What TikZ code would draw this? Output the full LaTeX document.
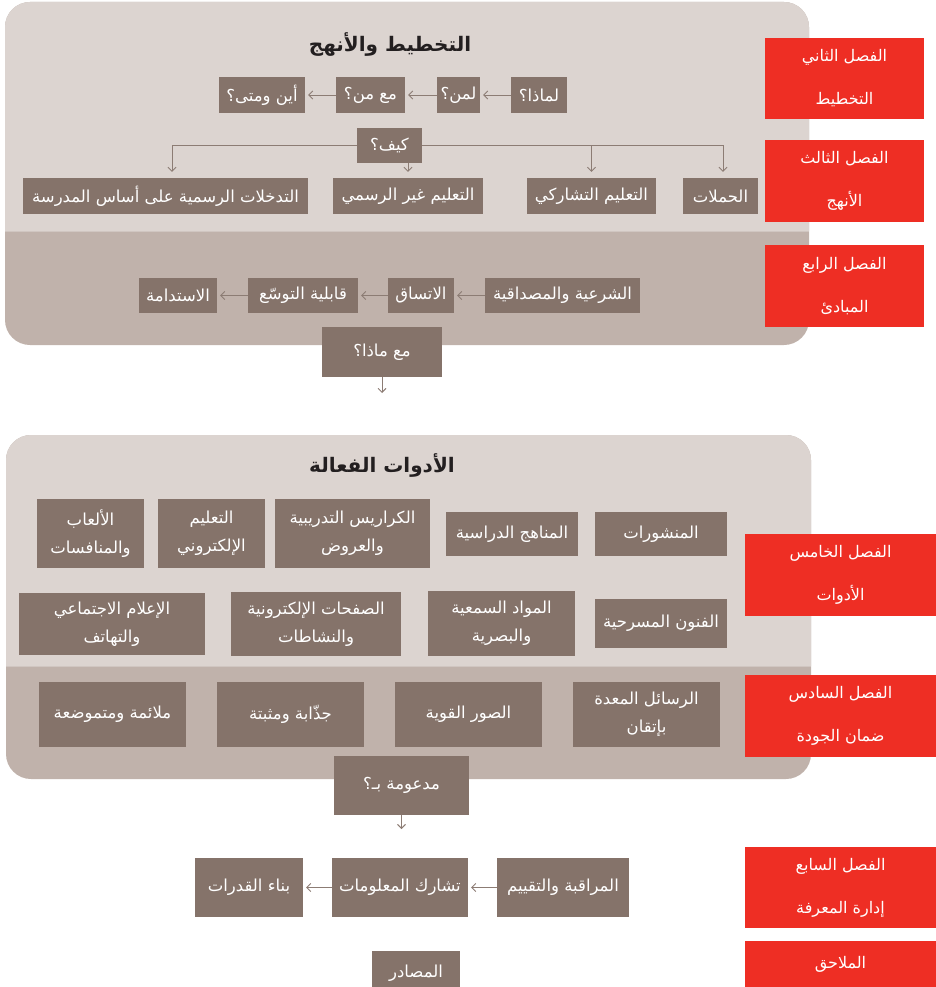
\documentclass[tikz,border=0pt]{standalone}
\usepackage{fontspec}
\newfontfamily\arabicfont[Script=Arabic]{DejaVu Sans}
\TeXXeTstate=1
\usetikzlibrary{arrows.meta}
\definecolor{panellight}{HTML}{DCD4D0}
\definecolor{paneldark}{HTML}{C0B2AB}
\definecolor{panelline}{HTML}{D0C6C1}
\definecolor{boxbrown}{HTML}{85736A}
\definecolor{chapred}{HTML}{EE2E24}
\definecolor{arrowgrey}{HTML}{8C7C74}
\definecolor{titletext}{HTML}{231F20}
\newcommand{\AR}[1]{\beginR #1\endR}
\begin{document}
\begin{tikzpicture}[x=1pt,y=-1pt,
  box/.style={fill=boxbrown, text=white, font=\arabicfont\fontsize{16.5}{28}\selectfont, inner sep=0pt, align=center},
  chap/.style={fill=chapred, text=white, font=\arabicfont\fontsize{16}{43}\selectfont, inner sep=0pt, align=center},
  conn/.style={draw=arrowgrey, line width=0.9pt, shorten >=3pt, -{Straight Barb[length=4pt,width=8pt]}},
  ptitle/.style={font=\arabicfont\bfseries\fontsize{20}{24}\selectfont, text=titletext, inner sep=0pt}
]
\useasboundingbox (0,0) rectangle (936,987);
\clip (0,0) rectangle (936,987);

% ---------- panel 1 ----------
\fill[paneldark, rounded corners=25pt] (5,2) rectangle (809,345);
\fill[panellight] (5,231) [rounded corners=25pt] -- (5,2) -- (809,2) [sharp corners] -- (809,231) -- cycle;
\draw[panelline, line width=1pt] (5,231) -- (809,231);

\node[ptitle] (title1) at (390,45) {\AR{التخطيط والأنهج}};

\node[box, minimum width=56pt, minimum height=36pt] (why) at (539,95) {\AR{لماذا؟}};
\node[box, minimum width=43pt, minimum height=36pt] (whom) at (458.5,95) {\AR{لمن؟}};
\node[box, minimum width=69pt, minimum height=36pt] (withwhom) at (370.5,95) {\AR{مع من؟}};
\node[box, minimum width=86pt, minimum height=36pt] (where) at (262,95) {\AR{أين ومتى؟}};

\node[box, minimum width=65pt, minimum height=35pt] (how) at (389.5,145.5) {\AR{كيف؟}};

\node[box, minimum width=285pt, minimum height=36pt] (t1) at (165.5,196) {\AR{التدخلات الرسمية على أساس المدرسة}};
\node[box, minimum width=150pt, minimum height=36pt] (t2) at (408,196) {\AR{التعليم غير الرسمي}};
\node[box, minimum width=129pt, minimum height=36pt] (t3) at (591.5,196) {\AR{التعليم التشاركي}};
\node[box, minimum width=75pt, minimum height=36pt] (t4) at (720.5,196) {\AR{الحملات}};

\draw[conn] (why) -- (whom);
\draw[conn] (whom) -- (withwhom);
\draw[conn] (withwhom) -- (where);

\draw[conn, shorten >=6pt] (how.west) -| ([xshift=6.5pt]t1.north);
\draw[conn, shorten >=6pt] (how.south -| t2.north) -- (t2.north);
\draw[conn, shorten >=6pt] (how.east) -| (t3.north);
\draw[conn, shorten >=6pt] (how.east) -| ([xshift=2.5pt]t4.north);

\node[box, minimum width=155pt, minimum height=35pt] (p1) at (562.5,295.5) {\AR{الشرعية والمصداقية}};
\node[box, minimum width=66pt, minimum height=35pt] (p2) at (421,295.5) {\AR{الاتساق}};
\node[box, minimum width=110pt, minimum height=35pt] (p3) at (303,295.5) {\AR{قابلية التوسّع}};
\node[box, minimum width=78pt, minimum height=35pt] (p4) at (178,295.5) {\AR{الاستدامة}};
\draw[conn] (p1) -- (p2);
\draw[conn] (p2) -- (p3);
\draw[conn] (p3) -- (p4);

\node[box, minimum width=120pt, minimum height=50pt] (withwhat) at (382,352) {\AR{مع ماذا؟}};
\coordinate (wwend) at (382,396);
\draw[conn] (withwhat) -- (wwend);

% ---------- panel 2 ----------
\fill[paneldark, rounded corners=25pt] (6,435) rectangle (811,779);
\fill[panellight] (6,666) [rounded corners=25pt] -- (6,435) -- (811,435) [sharp corners] -- (811,666) -- cycle;
\draw[panelline, line width=1pt] (6,666) -- (811,666);

\node[ptitle] (title2) at (382,465) {\AR{الأدوات الفعالة}};

\node[box, minimum width=132pt, minimum height=44pt] (b1) at (661,534) {\AR{المنشورات}};
\node[box, minimum width=132pt, minimum height=44pt] (b2) at (512,534) {\AR{المناهج الدراسية}};
\node[box, minimum width=155pt, minimum height=69pt] (b3) at (352.5,533.5) {\AR{الكراريس التدريبية}\\\AR{والعروض}};
\node[box, minimum width=107pt, minimum height=69pt] (b4) at (211.5,533.5) {\AR{التعليم}\\\AR{الإلكتروني}};
\node[box, minimum width=107pt, minimum height=69pt] (b5) at (90.5,533.5) {\AR{الألعاب}\\\AR{والمنافسات}};

\node[box, minimum width=132pt, minimum height=49pt] (c1) at (661,623.5) {\AR{الفنون المسرحية}};
\node[box, minimum width=147pt, minimum height=65pt] (c2) at (501.5,623.5) {\AR{المواد السمعية}\\\AR{والبصرية}};
\node[box, minimum width=170pt, minimum height=64pt] (c3) at (316,624) {\AR{الصفحات الإلكترونية}\\\AR{والنشاطات}};
\node[box, minimum width=186pt, minimum height=62pt] (c4) at (112,624) {\AR{الإعلام الاجتماعي}\\\AR{والتهاتف}};

\node[box, minimum width=147pt, minimum height=65pt] (d1) at (646.5,714.5) {\AR{الرسائل المعدة}\\\AR{بإتقان}};
\node[box, minimum width=147pt, minimum height=65pt] (d2) at (468.5,714.5) {\AR{الصور القوية}};
\node[box, minimum width=147pt, minimum height=65pt] (d3) at (290.5,714.5) {\AR{جذّابة ومثبتة}};
\node[box, minimum width=147pt, minimum height=65pt] (d4) at (112.5,714.5) {\AR{ملائمة ومتموضعة}};

\node[box, minimum width=135pt, minimum height=59pt] (supp) at (401.5,785.5) {\AR{مدعومة بـ؟}};
\coordinate (suppend) at (401.5,832);
\draw[conn] (supp) -- (suppend);

% ---------- bottom ----------
\node[box, minimum width=132pt, minimum height=59pt] (e1) at (563,887.5) {\AR{المراقبة والتقييم}};
\node[box, minimum width=136pt, minimum height=59pt] (e2) at (400,887.5) {\AR{تشارك المعلومات}};
\node[box, minimum width=108pt, minimum height=59pt] (e3) at (249,887.5) {\AR{بناء القدرات}};
\draw[conn] (e1) -- (e2);
\draw[conn] (e2) -- (e3);

\node[box, minimum width=88pt, minimum height=44pt] (src) at (416,973) {\AR{المصادر}};

% ---------- chapter labels ----------
\node[chap, minimum width=159pt, minimum height=81pt] (r2) at (844.5,78.5) {\AR{الفصل الثاني}\\\AR{التخطيط}};
\node[chap, minimum width=159pt, minimum height=82pt] (r3) at (844.5,181) {\AR{الفصل الثالث}\\\AR{الأنهج}};
\node[chap, minimum width=159pt, minimum height=82pt] (r4) at (844.5,286) {\AR{الفصل الرابع}\\\AR{المبادئ}};
\node[chap, minimum width=191pt, minimum height=82pt] (r5) at (840.5,575) {\AR{الفصل الخامس}\\\AR{الأدوات}};
\node[chap, minimum width=191pt, minimum height=82pt] (r6) at (840.5,716) {\AR{الفصل السادس}\\\AR{ضمان الجودة}};
\node[chap, minimum width=191pt, minimum height=81pt] (r7) at (840.5,887.5) {\AR{الفصل السابع}\\\AR{إدارة المعرفة}};
\node[chap, minimum width=191pt, minimum height=46pt] (r8) at (840.5,964) {\AR{الملاحق}};
\end{tikzpicture}
\end{document}
